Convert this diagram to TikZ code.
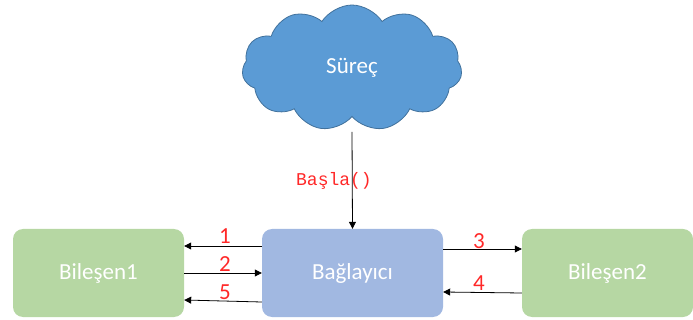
\documentclass[tikz,border=0pt]{standalone}
\usepackage{fontspec}
\setmainfont{Carlito}
\newfontfamily\codefont{Liberation Mono}
\usetikzlibrary{shapes.symbols,arrows.meta}
\definecolor{boxgreen}{RGB}{182,215,163}
\definecolor{boxblue}{RGB}{161,184,225}
\definecolor{cloudfill}{RGB}{91,155,213}
\definecolor{cloudline}{RGB}{65,113,156}
\definecolor{numred}{RGB}{255,40,40}
\tikzset{
  compbox/.style={draw=none, fill=boxgreen, rounded corners=10pt, minimum width=171pt, minimum height=88pt, text=white, font=\fontsize{23}{27}\selectfont},
  connbox/.style={draw=none, fill=boxblue, rounded corners=10pt, minimum width=181pt, minimum height=88pt, text=white, font=\fontsize{23}{27}\selectfont},
  flow/.style={draw=black, line width=0.8pt, -{Triangle[width=7pt,length=7pt]}},
  numlbl/.style={text=numred, font=\fontsize{23}{27}\selectfont, inner sep=0pt},
}
\begin{document}
\begin{tikzpicture}[x=1pt,y=-1pt]
\useasboundingbox (0,0) rectangle (693,320);
\node[cloud, cloud puffs=11, cloud puff arc=115, aspect=1.75, draw=cloudline, line width=0.8pt, fill=cloudfill,
      minimum width=220pt, minimum height=126pt, inner sep=0pt, text=white, font=\fontsize{23}{27}\selectfont] (surec) at (352,68) {Süreç};
\node[compbox] (b1) at (98.5,273) {Bileşen1};
\node[connbox] (bag) at (352.5,273) {Bağlayıcı};
\node[compbox] (b2) at (607.5,273) {Bileşen2};
\coordinate (cb) at (352,132);
\draw[flow] (cb) -- (bag.north);
\node[text=numred, font=\codefont\fontsize{18}{22}\selectfont, inner sep=0pt] (basla) at (334,181) {Başla()};
% arrows left
\draw[flow] ([yshift=27pt]bag.west) -- ([yshift=27pt]b1.east);
\draw[flow] (b1.east) -- (bag.west);
\draw[flow] ([yshift=-29pt]bag.west) -- ([yshift=-27pt]b1.east);
\draw[flow] ([yshift=24pt]bag.east) -- ([yshift=24pt]b2.west);
\draw[flow] ([yshift=-20pt]b2.west) -- ([yshift=-19pt]bag.east);
\node[numlbl] (n1) at (225,236) {1};
\node[numlbl] (n2) at (225,264) {2};
\node[numlbl] (n5) at (225,292) {5};
\node[numlbl] (n3) at (479,241) {3};
\node[numlbl] (n4) at (479,283) {4};
\end{tikzpicture}
\end{document}
